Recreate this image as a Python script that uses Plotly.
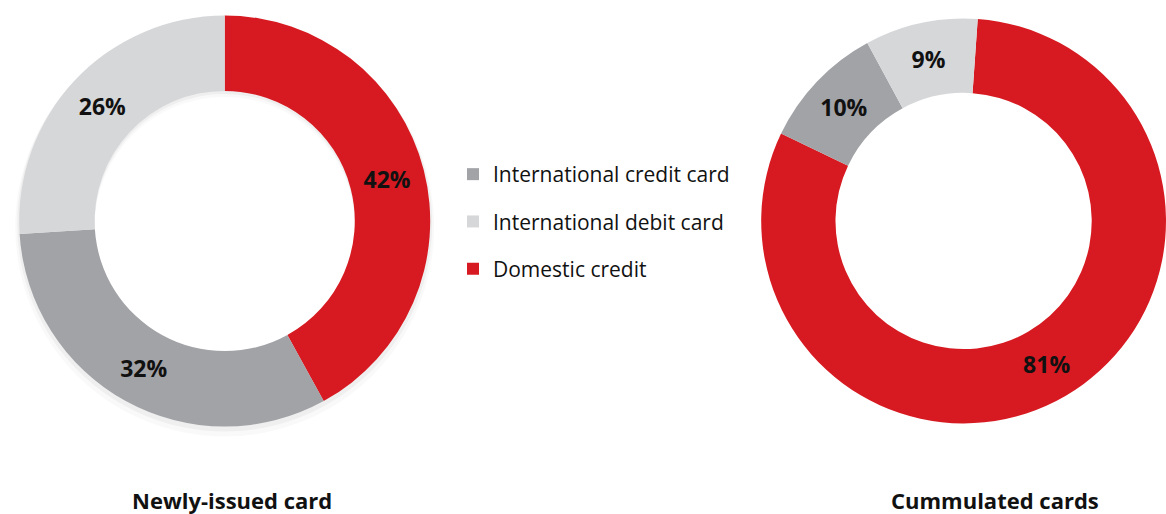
import plotly.graph_objects as go

# Card categories and shares (%)
categories = ["Domestic credit", "International credit card", "International debit card"]
newly_issued = [42, 32, 26]
cumulated = [81, 10, 9]

legend_order = ["International credit card", "International debit card", "Domestic credit"]
chart_titles = ["Newly-issued card", "Cummulated cards"]

palette = {
    "Domestic credit": "#D71A21",
    "International credit card": "#A2A3A7",
    "International debit card": "#D6D7D9",
}

W, H = 1166, 514
FONT = "Open Sans"
HOLE = 0.633


def px_domain(cx, cy, r):
    """Domain (paper units) of a pie centred at pixel (cx, cy) with radius r."""
    x0, x1 = max(cx - r, 0) / W, min(cx + r, W) / W
    y0, y1 = 1 - (cy + r) / H, 1 - (cy - r) / H
    return [x0, x1], [y0, y1]


fig = go.Figure()

# Soft drop shadow under the left ring
for dy, grow, alpha in [(6, 4, 0.025), (3, 2, 0.04)]:
    dx_, dy_ = px_domain(224.7, 221 + dy, 205.5 + grow)
    fig.add_trace(go.Pie(
        values=[1], hole=HOLE * 205.5 / (205.5 + grow), sort=False,
        marker=dict(colors=[f"rgba(0,0,0,{alpha})"], line=dict(width=0)),
        textinfo="none", hoverinfo="skip", showlegend=False,
        domain=dict(x=dx_, y=dy_),
    ))


def donut(values, cx, cy, r, rotation):
    dx_, dy_ = px_domain(cx, cy, r)
    return go.Pie(
        labels=categories,
        values=values,
        hole=HOLE,
        sort=False,
        direction="clockwise",
        rotation=rotation,
        marker=dict(colors=[palette[c] for c in categories], line=dict(width=0)),
        texttemplate="%{value}%",
        textposition="inside",
        insidetextorientation="horizontal",
        insidetextfont=dict(family=FONT, size=23, color="#111111", weight="bold"),
        domain=dict(x=dx_, y=dy_),
        showlegend=False,
        hoverinfo="label+percent",
    )


fig.add_trace(donut(newly_issued, 224.7, 221, 205.5, 0))
fig.add_trace(donut(cumulated, 966.7, 221, 205.5, 4))

# Legend entries: one empty square-marker trace per category, each in its own group
for name in legend_order:
    fig.add_trace(go.Scatter(
        x=[None], y=[None], mode="markers", name=name,
        legendgroup=name, showlegend=True,
        marker=dict(symbol="square", size=12, color=palette[name]),
    ))

title_font = dict(family=FONT, size=22, color="#111111", weight="bold")

fig.update_layout(
    width=W, height=H,
    margin=dict(l=0, r=0, t=0, b=0),
    paper_bgcolor="white", plot_bgcolor="white",
    xaxis=dict(visible=False), yaxis=dict(visible=False),
    legend=dict(
        x=453 / W, y=1 - 154 / H, xanchor="left", yanchor="top",
        font=dict(family=FONT, size=21, color="#111111"),
        tracegroupgap=17, bgcolor="rgba(0,0,0,0)",
    ),
    annotations=[
        dict(text=chart_titles[0], x=232 / W, y=1 - 500 / H, xref="paper", yref="paper",
             showarrow=False, xanchor="center", yanchor="middle", font=title_font),
        dict(text=chart_titles[1], x=995 / W, y=1 - 500 / H, xref="paper", yref="paper",
             showarrow=False, xanchor="center", yanchor="middle", font=title_font),
    ],
)

fig.write_html("out.html")
